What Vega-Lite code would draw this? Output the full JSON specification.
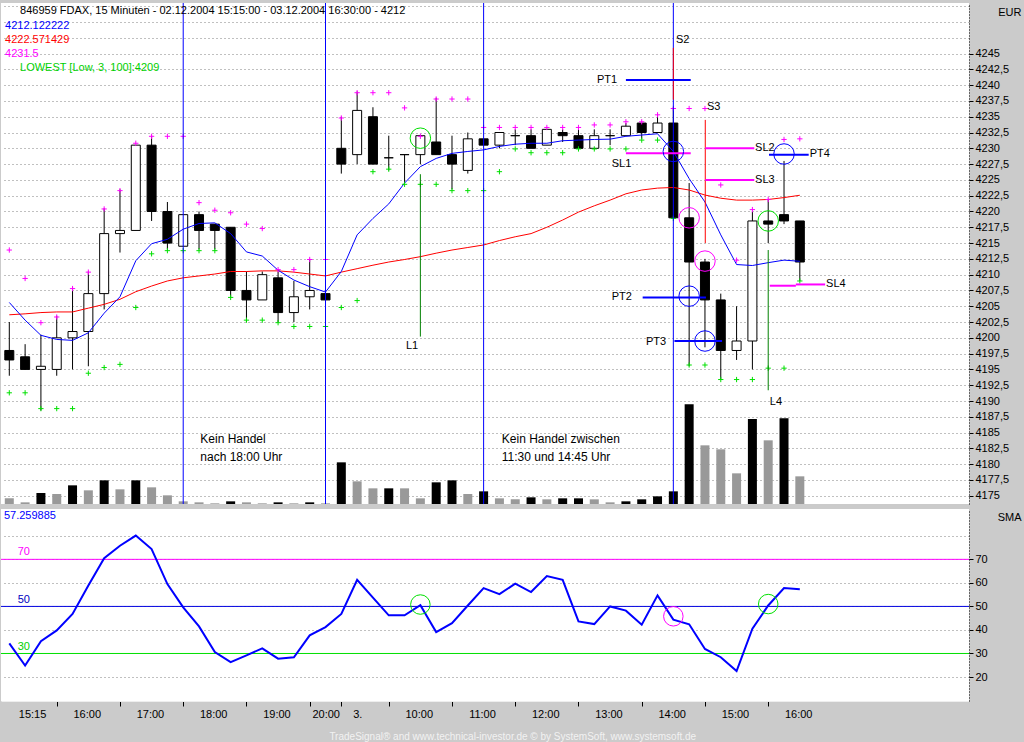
{
  "$schema": "https://vega.github.io/schema/vega-lite/v6.json",
  "background": "#CBCBCB",
  "padding": {"left": 0, "top": 0, "right": 0, "bottom": 2},
  "spacing": 5,
  "bounds": "flush",
  "config": {
    "view": {"fill": "white", "stroke": null},
    "font": "Liberation Sans",
    "text": {"font": "Liberation Sans", "fontSize": 11},
    "axis": {"labelFont": "Liberation Sans", "titleFont": "Liberation Sans"}
  },
  "title": {
    "text": "TradeSignal® and www.technical-investor.de © by SystemSoft, www.systemsoft.de",
    "orient": "bottom",
    "anchor": "middle",
    "frame": "bounds",
    "fontSize": 10,
    "fontWeight": "normal",
    "color": "#F2F2F2",
    "offset": 10
  },
  "datasets": {
    "bars": [
      {"bar": 0, "o": 4198, "h": 4202.5, "l": 4194, "c": 4196.5, "v": 17, "up": 0, "s": 4205.6, "m": 4203.65, "hh": 4213.9, "ll": 4191.3, "r": 34.3},
      {"bar": 1, "o": 4197, "h": 4199, "l": 4195, "c": 4195, "v": 5, "up": 0, "s": 4202.8, "m": 4203.8, "hh": 4209.4, "ll": 4191.3, "r": 24.9},
      {"bar": 2, "o": 4195, "h": 4200.5, "l": 4188.5, "c": 4195.5, "v": 33, "up": 1, "s": 4200.4, "m": 4204.0, "hh": 4202.4, "ll": 4188.8, "r": 35.2},
      {"bar": 3, "o": 4195, "h": 4203.5, "l": 4194, "c": 4200, "v": 30, "up": 0, "s": 4199.75, "m": 4204.1, "hh": 4203.3, "ll": 4188.8, "r": 39.8},
      {"bar": 4, "o": 4200, "h": 4208, "l": 4195, "c": 4201, "v": 56, "up": 1, "s": 4199.6, "m": 4204.1, "hh": 4207.8, "ll": 4188.8, "r": 46.8},
      {"bar": 5, "o": 4201, "h": 4210.5, "l": 4195.5, "c": 4207, "v": 41, "up": 0, "s": 4200.8, "m": 4204.7, "hh": 4210.4, "ll": 4194.4, "r": 58.9},
      {"bar": 6, "o": 4207, "h": 4220.5, "l": 4204.5, "c": 4216.5, "v": 71, "up": 1, "s": 4203.9, "m": 4205.3, "hh": 4220.4, "ll": 4195.3, "r": 70.5},
      {"bar": 7, "o": 4216.5, "h": 4223.5, "l": 4213.5, "c": 4217, "v": 44, "up": 0, "s": 4206.5, "m": 4206.1, "hh": 4223.3, "ll": 4195.8, "r": 75.8},
      {"bar": 8, "o": 4217, "h": 4230.5, "l": 4217, "c": 4230.5, "v": 71, "up": 1, "s": 4212.2, "m": 4207.3, "hh": 4230.8, "ll": 4204.8, "r": 80.1},
      {"bar": 9, "o": 4230.5, "h": 4232, "l": 4218.5, "c": 4220, "v": 50, "up": 0, "s": 4214.9, "m": 4208.2, "hh": 4231.9, "ll": 4213.3, "r": 74.4},
      {"bar": 10, "o": 4220, "h": 4221.5, "l": 4214, "c": 4215, "v": 26, "up": 0, "s": 4215.6, "m": 4209.0, "hh": 4231.9, "ll": 4213.8, "r": 59.5},
      {"bar": 11, "o": 4214.5, "h": 4219.5, "l": 4214.5, "c": 4219.5, "v": 8, "up": 0, "s": 4217.2, "m": 4209.5, "hh": 4231.9, "ll": 4213.8, "r": 49.6},
      {"bar": 12, "o": 4219.5, "h": 4220, "l": 4214, "c": 4217, "v": 5, "up": 0, "s": 4218.1, "m": 4209.8, "hh": 4221.4, "ll": 4213.8, "r": 41.5},
      {"bar": 13, "o": 4218, "h": 4218, "l": 4214, "c": 4217, "v": 2, "up": 0, "s": 4218.2, "m": 4210.1, "hh": 4220.2, "ll": 4213.8, "r": 30.6},
      {"bar": 14, "o": 4217.5, "h": 4217.5, "l": 4206.5, "c": 4207.5, "v": 8, "up": 1, "s": 4216.5, "m": 4210.5, "hh": 4219.8, "ll": 4206.4, "r": 26.3},
      {"bar": 15, "o": 4207.5, "h": 4210.5, "l": 4202.5, "c": 4206, "v": 5, "up": 0, "s": 4213.6, "m": 4210.5, "hh": 4218.0, "ll": 4202.8, "r": 29.2},
      {"bar": 16, "o": 4206, "h": 4210.5, "l": 4206, "c": 4210, "v": 2, "up": 0, "s": 4212.95, "m": 4210.6, "hh": 4217.3, "ll": 4202.8, "r": 32.2},
      {"bar": 17, "o": 4209.5, "h": 4210.5, "l": 4202.5, "c": 4204, "v": 5, "up": 1, "s": 4210.7, "m": 4210.6, "hh": 4210.8, "ll": 4202.4, "r": 27.8},
      {"bar": 18, "o": 4204, "h": 4209, "l": 4202.5, "c": 4206.5, "v": 2, "up": 0, "s": 4209.15, "m": 4210.4, "hh": 4210.8, "ll": 4201.8, "r": 28.4},
      {"bar": 19, "o": 4206.5, "h": 4212.5, "l": 4204.5, "c": 4207.5, "v": 5, "up": 1, "s": 4208.1, "m": 4210.1, "hh": 4212.4, "ll": 4201.8, "r": 37.7},
      {"bar": 20, "o": 4207, "h": 4207.5, "l": 4206, "c": 4206, "v": 2, "up": 0, "s": 4207.25, "m": 4209.8, "hh": 4212.4, "ll": 4201.8, "r": 41.2},
      {"bar": 21, "o": 4230, "h": 4235, "l": 4226, "c": 4227.5, "v": 125, "up": 1, "s": 4210.5, "m": 4210.4, "hh": 4234.8, "ll": 4204.8, "r": 46.8},
      {"bar": 22, "o": 4229, "h": 4239, "l": 4227.5, "c": 4236, "v": 68, "up": 0, "s": 4216.3, "m": 4210.95, "hh": 4238.8, "ll": 4205.9, "r": 61.3},
      {"bar": 23, "o": 4235, "h": 4236.5, "l": 4227.5, "c": 4227.5, "v": 47, "up": 0, "s": 4218.9, "m": 4211.5, "hh": 4238.8, "ll": 4226.3, "r": 53.7},
      {"bar": 24, "o": 4228.5, "h": 4232, "l": 4226.5, "c": 4228.5, "v": 47, "up": 1, "s": 4221.2, "m": 4212.0, "hh": 4238.8, "ll": 4226.7, "r": 46.2},
      {"bar": 25, "o": 4229, "h": 4229, "l": 4224.5, "c": 4229, "v": 47, "up": 0, "s": 4224.5, "m": 4212.4, "hh": 4236.4, "ll": 4224.3, "r": 46.2},
      {"bar": 26, "o": 4229, "h": 4232, "l": 4227.5, "c": 4232, "v": 17, "up": 0, "s": 4227.1, "m": 4212.85, "hh": 4231.9, "ll": 4224.3, "r": 50.5},
      {"bar": 27, "o": 4231, "h": 4238, "l": 4229, "c": 4229, "v": 65, "up": 1, "s": 4228.4, "m": 4213.4, "hh": 4237.8, "ll": 4224.3, "r": 39.1},
      {"bar": 28, "o": 4229, "h": 4232, "l": 4223.5, "c": 4227.5, "v": 71, "up": 1, "s": 4229.2, "m": 4213.9, "hh": 4237.8, "ll": 4223.3, "r": 42.9},
      {"bar": 29, "o": 4226.5, "h": 4232.5, "l": 4226, "c": 4231.5, "v": 30, "up": 0, "s": 4229.5, "m": 4214.3, "hh": 4237.8, "ll": 4223.3, "r": 50.4},
      {"bar": 30, "o": 4231.5, "h": 4231.5, "l": 4230.5, "c": 4230.5, "v": 38, "up": 1, "s": 4229.75, "m": 4214.7, "hh": 4233.3, "ll": 4223.3, "r": 57.8},
      {"bar": 31, "o": 4230.5, "h": 4232.5, "l": 4230, "c": 4232.5, "v": 17, "up": 0, "s": 4230.3, "m": 4215.4, "hh": 4233.3, "ll": 4226.3, "r": 55.2},
      {"bar": 32, "o": 4232, "h": 4233, "l": 4230.5, "c": 4232, "v": 14, "up": 0, "s": 4230.65, "m": 4216.0, "hh": 4233.3, "ll": 4229.9, "r": 59.7},
      {"bar": 33, "o": 4232, "h": 4233, "l": 4230, "c": 4230, "v": 20, "up": 1, "s": 4230.8, "m": 4216.5, "hh": 4233.3, "ll": 4229.3, "r": 56.1},
      {"bar": 34, "o": 4230.5, "h": 4233, "l": 4230.5, "c": 4233, "v": 14, "up": 0, "s": 4230.8, "m": 4217.5, "hh": 4233.3, "ll": 4229.3, "r": 62.9},
      {"bar": 35, "o": 4232.5, "h": 4233, "l": 4231, "c": 4232, "v": 17, "up": 1, "s": 4231.2, "m": 4218.65, "hh": 4233.3, "ll": 4229.3, "r": 61.3},
      {"bar": 36, "o": 4232, "h": 4233, "l": 4230, "c": 4230, "v": 17, "up": 1, "s": 4231.3, "m": 4219.9, "hh": 4233.3, "ll": 4229.9, "r": 43.6},
      {"bar": 37, "o": 4230, "h": 4233, "l": 4230, "c": 4232, "v": 14, "up": 0, "s": 4231.4, "m": 4220.9, "hh": 4233.7, "ll": 4229.9, "r": 42.5},
      {"bar": 38, "o": 4232, "h": 4233, "l": 4230.5, "c": 4232, "v": 5, "up": 0, "s": 4231.45, "m": 4221.8, "hh": 4233.7, "ll": 4229.9, "r": 50.0},
      {"bar": 39, "o": 4232, "h": 4234, "l": 4232, "c": 4233.5, "v": 8, "up": 1, "s": 4231.9, "m": 4222.8, "hh": 4234.2, "ll": 4229.9, "r": 48.2},
      {"bar": 40, "o": 4234, "h": 4234, "l": 4231.5, "c": 4232.5, "v": 14, "up": 1, "s": 4232.1, "m": 4223.4, "hh": 4234.2, "ll": 4231.3, "r": 42.2},
      {"bar": 41, "o": 4232.5, "h": 4235.5, "l": 4232.5, "c": 4234, "v": 23, "up": 1, "s": 4232.3, "m": 4223.7, "hh": 4235.3, "ll": 4231.3, "r": 54.7},
      {"bar": 42, "o": 4234, "h": 4236.5, "l": 4219, "c": 4219, "v": 38, "up": 1, "s": 4229.5, "m": 4223.8, "hh": 4236.3, "ll": 4218.9, "r": 44.4},
      {"bar": 43, "o": 4219, "h": 4224.5, "l": 4195.5, "c": 4212, "v": 299, "up": 1, "s": 4225.2, "m": 4223.4, "hh": 4236.3, "ll": 4195.7, "r": 42.4},
      {"bar": 44, "o": 4212, "h": 4212.5, "l": 4198.5, "c": 4206, "v": 176, "up": 0, "s": 4221.5, "m": 4222.6, "hh": 4236.3, "ll": 4195.7, "r": 31.9},
      {"bar": 45, "o": 4206, "h": 4207, "l": 4193.5, "c": 4198, "v": 164, "up": 0, "s": 4216.3, "m": 4222.1, "hh": 4224.2, "ll": 4193.4, "r": 28.4},
      {"bar": 46, "o": 4198, "h": 4205, "l": 4196.5, "c": 4199.5, "v": 92, "up": 0, "s": 4211.6, "m": 4221.8, "hh": 4212.3, "ll": 4193.4, "r": 22.5},
      {"bar": 47, "o": 4199.5, "h": 4220, "l": 4195, "c": 4218.5, "v": 255, "up": 1, "s": 4211.45, "m": 4221.8, "hh": 4220.3, "ll": 4193.4, "r": 40.5},
      {"bar": 48, "o": 4218.5, "h": 4222, "l": 4215, "c": 4218, "v": 191, "up": 0, "s": 4211.9, "m": 4221.9, "hh": 4221.9, "ll": 4195.2, "r": 50.4},
      {"bar": 49, "o": 4219.5, "h": 4228, "l": 4218, "c": 4218.5, "v": 257, "up": 1, "s": 4212.3, "m": 4222.2, "hh": 4231.4, "ll": 4195.2, "r": 57.8},
      {"bar": 50, "o": 4218.5, "h": 4218.5, "l": 4209, "c": 4212, "v": 83, "up": 0, "s": 4212.12, "m": 4222.57, "hh": 4231.5, "ll": 4209, "r": 57.26}
    ],
    "vfull": [
      {"bar": 11, "p": 4173.7, "p2": 4253.0},
      {"bar": 20, "p": 4173.7, "p2": 4253.0},
      {"bar": 30, "p": 4173.7, "p2": 4253.0},
      {"bar": 42, "p": 4173.7, "p2": 4253.0}
    ],
    "vseg": [
      {"bar": 42, "p": 4245.9, "p2": 4237.7, "k": "S"},
      {"bar": 44.02, "p": 4234.5, "p2": 4215.0, "k": "S"},
      {"bar": 26, "p": 4225.9, "p2": 4200.2, "k": "L"},
      {"bar": 48, "p": 4213.9, "p2": 4191.7, "k": "L"}
    ],
    "hseg": [
      {"bar": 39.0, "bar2": 43.1, "p": 4240.8, "k": "PT"},
      {"bar": 40.06, "bar2": 44.06, "p": 4206.4, "k": "PT"},
      {"bar": 42.07, "bar2": 45.08, "p": 4199.5, "k": "PT"},
      {"bar": 48.05, "bar2": 50.56, "p": 4229.0, "k": "PT"},
      {"bar": 39.0, "bar2": 43.1, "p": 4229.2, "k": "SL"},
      {"bar": 44.02, "bar2": 47.12, "p": 4230.0, "k": "SL"},
      {"bar": 44.02, "bar2": 47.12, "p": 4225.0, "k": "SL"},
      {"bar": 48.1, "bar2": 49.75, "p": 4208.25, "k": "SL"},
      {"bar": 49.75, "bar2": 51.6, "p": 4208.45, "k": "SL"}
    ],
    "circ": [
      {"bar": 26, "p": 4231.6, "k": "g"},
      {"bar": 48, "p": 4218.5, "k": "g"},
      {"bar": 42, "p": 4229.5, "k": "b"},
      {"bar": 43, "p": 4206.6, "k": "b"},
      {"bar": 44, "p": 4199.5, "k": "b"},
      {"bar": 49, "p": 4229.1, "k": "b"},
      {"bar": 43, "p": 4219.0, "k": "m"},
      {"bar": 44, "p": 4212.15, "k": "m"}
    ],
    "ann": [
      {"bar": 37.17, "p": 4240.8, "t": "PT1"},
      {"bar": 38.1, "p": 4206.4, "t": "PT2"},
      {"bar": 40.27, "p": 4199.4, "t": "PT3"},
      {"bar": 50.63, "p": 4229.1, "t": "PT4"},
      {"bar": 38.1, "p": 4227.5, "t": "SL1"},
      {"bar": 47.17, "p": 4230.0, "t": "SL2"},
      {"bar": 47.17, "p": 4225.0, "t": "SL3"},
      {"bar": 51.66, "p": 4208.5, "t": "SL4"},
      {"bar": 42.17, "p": 4247.15, "t": "S2"},
      {"bar": 44.13, "p": 4236.6, "t": "S3"},
      {"bar": 25.09, "p": 4198.7, "t": "L1"},
      {"bar": 48.1, "p": 4189.8, "t": "L4"}
    ],
    "ann12": [
      {"bar": 12.08, "p": 4183.95, "t": "Kein Handel"},
      {"bar": 12.08, "p": 4181.2, "t": "nach 18:00 Uhr"},
      {"bar": 31.15, "p": 4183.95, "t": "Kein Handel zwischen"},
      {"bar": 31.15, "p": 4181.2, "t": "11:30 und 14:45 Uhr"}
    ],
    "head": [
      {"bar": 0.68, "p": 4251.7, "t": "846959  FDAX, 15 Minuten - 02.12.2004 15:15:00 - 03.12.2004 16:30:00 - 4212", "k": "t"},
      {"bar": -0.27, "p": 4249.3, "t": "4212.122222", "k": "b"},
      {"bar": -0.27, "p": 4247.1, "t": "4222.571429", "k": "r"},
      {"bar": -0.27, "p": 4244.9, "t": "4231.5", "k": "m"},
      {"bar": 0.68, "p": 4242.7, "t": "LOWEST [Low, 3, 100]:4209", "k": "g"}
    ],
    "lev": [
      {"bar": -0.525, "bar2": 60.7, "r": 30},
      {"bar": -0.525, "bar2": 60.7, "r": 50},
      {"bar": -0.525, "bar2": 60.7, "r": 70}
    ],
    "rsic": [
      {"bar": 26, "r": 50.8, "k": "g"},
      {"bar": 42, "r": 45.8, "k": "m"},
      {"bar": 48, "r": 51.0, "k": "g"}
    ],
    "rsit": [
      {"bar": -0.34, "r": 88.4, "t": "57.259885", "k": "b"},
      {"bar": 0.53, "r": 73.0, "t": "70", "k": "m"},
      {"bar": 0.53, "r": 52.8, "t": "50", "k": "n"},
      {"bar": 0.53, "r": 32.7, "t": "30", "k": "g"}
    ]
  },
  "vconcat": [
    {
      "width": 968,
      "height": 501,
      "encoding": {
        "x": {"field": "bar", "type": "quantitative", "scale": {"domain": [-0.525, 60.7], "nice": false, "zero": false, "padding": 0}, "axis": null}
      },
      "resolve": {"scale": {"y": "independent"}},
      "layer": [
        {
          "data": {"name": "bars"},
          "mark": {"type": "bar", "size": 9, "orient": "vertical"},
          "encoding": {
            "y": {"field": "v", "type": "quantitative", "scale": {"domain": [0, 1503], "nice": false}, "axis": null},
            "color": {"condition": {"test": "datum.up == 1", "value": "black"}, "value": "#999999"}
          }
        },
        {
          "encoding": {
            "y": {
              "field": "p", "type": "quantitative",
              "scale": {"domain": [4173.7, 4253.0], "nice": false, "zero": false},
              "axis": {"orient": "right", "values": [4175, 4177.5, 4180, 4182.5, 4185, 4187.5, 4190, 4192.5, 4195, 4197.5, 4200, 4202.5, 4205, 4207.5, 4210, 4212.5, 4215, 4217.5, 4220, 4222.5, 4225, 4227.5, 4230, 4232.5, 4235, 4237.5, 4240, 4242.5, 4245, 4247.5, 4250, 4252.5], "labelExpr": "datum.value > 4246 ? '' : (datum.value % 1 == 0 ? format(datum.value, 'd') : replace(format(datum.value, '.1f'), '.', ','))", "grid": true, "gridDash": [1, 3], "gridColor": "#808080", "domainDash": [1, 2], "domainColor": "black", "tickSize": 4, "tickColor": "black", "tickOpacity": {"condition": {"test": "datum.value > 4246", "value": 0}, "value": 1}, "labelPadding": 2, "labelFontSize": 11, "labelColor": "black", "labelOverlap": false, "labelFlush": false, "title": "EUR", "titleAngle": 0, "titleX": 52, "titleY": 9, "titleAlign": "right", "titleBaseline": "middle", "titleFontWeight": "normal", "titleFontSize": 11, "titleColor": "black", "minExtent": 56, "maxExtent": 56}
            }
          },
          "layer": [
            {
              "data": {"name": "bars"},
              "mark": {"type": "rule", "color": "black", "strokeWidth": 1},
              "encoding": {
                "y": {
                  "field": "l", "type": "quantitative",
                  "scale": {"domain": [4173.7, 4253.0], "nice": false, "zero": false},
                  "axis": {"orient": "right", "values": [4175, 4177.5, 4180, 4182.5, 4185, 4187.5, 4190, 4192.5, 4195, 4197.5, 4200, 4202.5, 4205, 4207.5, 4210, 4212.5, 4215, 4217.5, 4220, 4222.5, 4225, 4227.5, 4230, 4232.5, 4235, 4237.5, 4240, 4242.5, 4245, 4247.5, 4250, 4252.5], "labelExpr": "datum.value > 4246 ? '' : (datum.value % 1 == 0 ? format(datum.value, 'd') : replace(format(datum.value, '.1f'), '.', ','))", "grid": true, "gridDash": [1, 3], "gridColor": "#808080", "domainDash": [1, 2], "domainColor": "black", "tickSize": 4, "tickColor": "black", "tickOpacity": {"condition": {"test": "datum.value > 4246", "value": 0}, "value": 1}, "labelPadding": 2, "labelFontSize": 11, "labelColor": "black", "labelOverlap": false, "labelFlush": false, "title": "EUR", "titleAngle": 0, "titleX": 52, "titleY": 9, "titleAlign": "right", "titleBaseline": "middle", "titleFontWeight": "normal", "titleFontSize": 11, "titleColor": "black", "minExtent": 56, "maxExtent": 56}
                },
                "y2": {"field": "h"}
              }
            },
            {
              "data": {"name": "bars"},
              "mark": {"type": "bar", "size": 9, "stroke": "black", "strokeWidth": 1, "orient": "vertical"},
              "encoding": {
                "y": {
                  "field": "o", "type": "quantitative",
                  "scale": {"domain": [4173.7, 4253.0], "nice": false, "zero": false},
                  "axis": {"orient": "right", "values": [4175, 4177.5, 4180, 4182.5, 4185, 4187.5, 4190, 4192.5, 4195, 4197.5, 4200, 4202.5, 4205, 4207.5, 4210, 4212.5, 4215, 4217.5, 4220, 4222.5, 4225, 4227.5, 4230, 4232.5, 4235, 4237.5, 4240, 4242.5, 4245, 4247.5, 4250, 4252.5], "labelExpr": "datum.value > 4246 ? '' : (datum.value % 1 == 0 ? format(datum.value, 'd') : replace(format(datum.value, '.1f'), '.', ','))", "grid": true, "gridDash": [1, 3], "gridColor": "#808080", "domainDash": [1, 2], "domainColor": "black", "tickSize": 4, "tickColor": "black", "tickOpacity": {"condition": {"test": "datum.value > 4246", "value": 0}, "value": 1}, "labelPadding": 2, "labelFontSize": 11, "labelColor": "black", "labelOverlap": false, "labelFlush": false, "title": "EUR", "titleAngle": 0, "titleX": 52, "titleY": 9, "titleAlign": "right", "titleBaseline": "middle", "titleFontWeight": "normal", "titleFontSize": 11, "titleColor": "black", "minExtent": 56, "maxExtent": 56}
                },
                "y2": {"field": "c"},
                "color": {"condition": {"test": "datum.c < datum.o", "value": "black"}, "value": "white"}
              }
            },
            {
              "data": {"name": "bars"},
              "mark": {"type": "line", "color": "#FF0000", "strokeWidth": 1},
              "encoding": {
                "y": {
                  "field": "m", "type": "quantitative",
                  "scale": {"domain": [4173.7, 4253.0], "nice": false, "zero": false},
                  "axis": {"orient": "right", "values": [4175, 4177.5, 4180, 4182.5, 4185, 4187.5, 4190, 4192.5, 4195, 4197.5, 4200, 4202.5, 4205, 4207.5, 4210, 4212.5, 4215, 4217.5, 4220, 4222.5, 4225, 4227.5, 4230, 4232.5, 4235, 4237.5, 4240, 4242.5, 4245, 4247.5, 4250, 4252.5], "labelExpr": "datum.value > 4246 ? '' : (datum.value % 1 == 0 ? format(datum.value, 'd') : replace(format(datum.value, '.1f'), '.', ','))", "grid": true, "gridDash": [1, 3], "gridColor": "#808080", "domainDash": [1, 2], "domainColor": "black", "tickSize": 4, "tickColor": "black", "tickOpacity": {"condition": {"test": "datum.value > 4246", "value": 0}, "value": 1}, "labelPadding": 2, "labelFontSize": 11, "labelColor": "black", "labelOverlap": false, "labelFlush": false, "title": "EUR", "titleAngle": 0, "titleX": 52, "titleY": 9, "titleAlign": "right", "titleBaseline": "middle", "titleFontWeight": "normal", "titleFontSize": 11, "titleColor": "black", "minExtent": 56, "maxExtent": 56}
                }
              }
            },
            {
              "data": {"name": "bars"},
              "mark": {"type": "line", "color": "#0000FF", "strokeWidth": 1},
              "encoding": {
                "y": {
                  "field": "s", "type": "quantitative",
                  "scale": {"domain": [4173.7, 4253.0], "nice": false, "zero": false},
                  "axis": {"orient": "right", "values": [4175, 4177.5, 4180, 4182.5, 4185, 4187.5, 4190, 4192.5, 4195, 4197.5, 4200, 4202.5, 4205, 4207.5, 4210, 4212.5, 4215, 4217.5, 4220, 4222.5, 4225, 4227.5, 4230, 4232.5, 4235, 4237.5, 4240, 4242.5, 4245, 4247.5, 4250, 4252.5], "labelExpr": "datum.value > 4246 ? '' : (datum.value % 1 == 0 ? format(datum.value, 'd') : replace(format(datum.value, '.1f'), '.', ','))", "grid": true, "gridDash": [1, 3], "gridColor": "#808080", "domainDash": [1, 2], "domainColor": "black", "tickSize": 4, "tickColor": "black", "tickOpacity": {"condition": {"test": "datum.value > 4246", "value": 0}, "value": 1}, "labelPadding": 2, "labelFontSize": 11, "labelColor": "black", "labelOverlap": false, "labelFlush": false, "title": "EUR", "titleAngle": 0, "titleX": 52, "titleY": 9, "titleAlign": "right", "titleBaseline": "middle", "titleFontWeight": "normal", "titleFontSize": 11, "titleColor": "black", "minExtent": 56, "maxExtent": 56}
                }
              }
            },
            {
              "data": {"name": "bars"},
              "mark": {"type": "point", "shape": "M-1,0H1M0,-1V1", "filled": false, "size": 28, "strokeWidth": 1, "color": "#FF00FF", "opacity": 1},
              "encoding": {
                "y": {
                  "field": "hh", "type": "quantitative",
                  "scale": {"domain": [4173.7, 4253.0], "nice": false, "zero": false},
                  "axis": {"orient": "right", "values": [4175, 4177.5, 4180, 4182.5, 4185, 4187.5, 4190, 4192.5, 4195, 4197.5, 4200, 4202.5, 4205, 4207.5, 4210, 4212.5, 4215, 4217.5, 4220, 4222.5, 4225, 4227.5, 4230, 4232.5, 4235, 4237.5, 4240, 4242.5, 4245, 4247.5, 4250, 4252.5], "labelExpr": "datum.value > 4246 ? '' : (datum.value % 1 == 0 ? format(datum.value, 'd') : replace(format(datum.value, '.1f'), '.', ','))", "grid": true, "gridDash": [1, 3], "gridColor": "#808080", "domainDash": [1, 2], "domainColor": "black", "tickSize": 4, "tickColor": "black", "tickOpacity": {"condition": {"test": "datum.value > 4246", "value": 0}, "value": 1}, "labelPadding": 2, "labelFontSize": 11, "labelColor": "black", "labelOverlap": false, "labelFlush": false, "title": "EUR", "titleAngle": 0, "titleX": 52, "titleY": 9, "titleAlign": "right", "titleBaseline": "middle", "titleFontWeight": "normal", "titleFontSize": 11, "titleColor": "black", "minExtent": 56, "maxExtent": 56}
                }
              }
            },
            {
              "data": {"name": "bars"},
              "mark": {"type": "point", "shape": "M-1,0H1M0,-1V1", "filled": false, "size": 28, "strokeWidth": 1, "color": "#00E000", "opacity": 1},
              "encoding": {
                "y": {
                  "field": "ll", "type": "quantitative",
                  "scale": {"domain": [4173.7, 4253.0], "nice": false, "zero": false},
                  "axis": {"orient": "right", "values": [4175, 4177.5, 4180, 4182.5, 4185, 4187.5, 4190, 4192.5, 4195, 4197.5, 4200, 4202.5, 4205, 4207.5, 4210, 4212.5, 4215, 4217.5, 4220, 4222.5, 4225, 4227.5, 4230, 4232.5, 4235, 4237.5, 4240, 4242.5, 4245, 4247.5, 4250, 4252.5], "labelExpr": "datum.value > 4246 ? '' : (datum.value % 1 == 0 ? format(datum.value, 'd') : replace(format(datum.value, '.1f'), '.', ','))", "grid": true, "gridDash": [1, 3], "gridColor": "#808080", "domainDash": [1, 2], "domainColor": "black", "tickSize": 4, "tickColor": "black", "tickOpacity": {"condition": {"test": "datum.value > 4246", "value": 0}, "value": 1}, "labelPadding": 2, "labelFontSize": 11, "labelColor": "black", "labelOverlap": false, "labelFlush": false, "title": "EUR", "titleAngle": 0, "titleX": 52, "titleY": 9, "titleAlign": "right", "titleBaseline": "middle", "titleFontWeight": "normal", "titleFontSize": 11, "titleColor": "black", "minExtent": 56, "maxExtent": 56}
                }
              }
            },
            {
              "data": {"name": "vfull"},
              "mark": {"type": "rule", "color": "#0000FF", "strokeWidth": 1},
              "encoding": {"y2": {"field": "p2"}}
            },
            {
              "data": {"name": "vseg"},
              "mark": {"type": "rule", "strokeWidth": 1},
              "encoding": {
                "y2": {"field": "p2"},
                "color": {"condition": {"test": "datum.k == 'S'", "value": "#FF0000"}, "value": "#008000"}
              }
            },
            {
              "data": {"name": "hseg"},
              "mark": {"type": "rule", "strokeWidth": 2},
              "encoding": {
                "x2": {"field": "bar2"},
                "color": {"condition": {"test": "datum.k == 'PT'", "value": "#0000FF"}, "value": "#FF00FF"}
              }
            },
            {
              "data": {"name": "circ"},
              "mark": {"type": "point", "shape": "circle", "filled": false, "size": 420, "strokeWidth": 1, "opacity": 1},
              "encoding": {
                "color": {"condition": [{"test": "datum.k == 'g'", "value": "#00E000"}, {"test": "datum.k == 'm'", "value": "#FF00FF"}], "value": "#0000FF"}
              }
            },
            {
              "data": {"name": "ann"},
              "mark": {"type": "text", "align": "left", "baseline": "middle", "fontSize": 11, "color": "black"},
              "encoding": {"text": {"field": "t"}}
            },
            {
              "data": {"name": "ann12"},
              "mark": {"type": "text", "align": "left", "baseline": "middle", "fontSize": 12, "color": "black"},
              "encoding": {"text": {"field": "t"}}
            },
            {
              "data": {"name": "head"},
              "mark": {"type": "text", "align": "left", "baseline": "middle", "fontSize": 11},
              "encoding": {
                "text": {"field": "t"},
                "color": {"condition": [{"test": "datum.k == 'b'", "value": "#0000FF"}, {"test": "datum.k == 'r'", "value": "#FF0000"}, {"test": "datum.k == 'm'", "value": "#FF00FF"}, {"test": "datum.k == 'g'", "value": "#00D000"}], "value": "black"}
              }
            }
          ]
        }
      ]
    },
    {
      "width": 968,
      "height": 192,
      "encoding": {
        "x": {
          "field": "bar", "type": "quantitative",
          "scale": {"domain": [-0.525, 60.7], "nice": false, "zero": false, "padding": 0},
          "axis": {
            "orient": "bottom",
            "values": [-0.46, 3, 7, 11, 15, 19, 21, 24, 28, 32, 36, 40, 44, 48],
            "labelExpr": "datum.value < 0 ? '15:15' : datum.value == 21 ? '3.' : (datum.value < 21 ? 15 + (datum.value + 1) / 4 : 9 + (datum.value - 20) / 4) + ':00'",
            "grid": false,
            "domainColor": "#EEEEEE",
            "tickSize": 5,
            "tickColor": "black",
            "tickOpacity": {"condition": {"test": "datum.value < 0", "value": 0}, "value": 1},
            "labelOffset": {"condition": {"test": "datum.value == 19 || datum.value == 21", "value": 16}, "value": 30},
            "labelAlign": "center",
            "labelPadding": 2,
            "labelFontSize": 11,
            "labelColor": "black",
            "labelOverlap": false,
            "labelFlush": false,
            "labelBound": false,
            "title": null,
            "minExtent": 21,
            "maxExtent": 21
          }
        },
        "y": {
          "field": "r", "type": "quantitative",
          "scale": {"domain": [9.8, 91.4], "nice": false, "zero": false},
          "axis": {
            "orient": "right",
            "values": [20, 30, 40, 50, 60, 70, 80],
            "labelExpr": "datum.value > 75 ? '' : datum.value",
            "grid": true,
            "gridDash": [1, 3],
            "gridColor": "#808080",
            "domainDash": [1, 2],
            "domainColor": "black",
            "tickSize": 4,
            "tickColor": "black",
            "tickOpacity": {"condition": {"test": "datum.value > 75", "value": 0}, "value": 1},
            "labelPadding": 2,
            "labelFontSize": 11,
            "labelColor": "black",
            "labelOverlap": false,
            "labelFlush": false,
            "title": "SMA",
            "titleAngle": 0,
            "titleX": 52,
            "titleY": 8,
            "titleAlign": "right",
            "titleBaseline": "middle",
            "titleFontWeight": "normal",
            "titleFontSize": 11,
            "titleColor": "black",
            "minExtent": 56,
            "maxExtent": 56
          }
        }
      },
      "layer": [
        {
          "data": {"name": "lev"},
          "mark": {"type": "rule", "strokeWidth": 1},
          "encoding": {
            "x2": {"field": "bar2"},
            "color": {"condition": [{"test": "datum.r == 70", "value": "#FF00FF"}, {"test": "datum.r == 50", "value": "#0000E0"}], "value": "#00E000"}
          }
        },
        {
          "data": {"name": "bars"},
          "mark": {"type": "line", "color": "#0000FF", "strokeWidth": 2},
          "encoding": {}
        },
        {
          "data": {"name": "rsic"},
          "mark": {"type": "point", "shape": "circle", "filled": false, "size": 380, "strokeWidth": 1, "opacity": 1},
          "encoding": {
            "color": {"condition": {"test": "datum.k == 'm'", "value": "#FF00FF"}, "value": "#00E000"}
          }
        },
        {
          "data": {"name": "rsit"},
          "mark": {"type": "text", "align": "left", "baseline": "middle", "fontSize": 11},
          "encoding": {
            "text": {"field": "t"},
            "color": {"condition": [{"test": "datum.k == 'b'", "value": "#0000FF"}, {"test": "datum.k == 'm'", "value": "#FF00FF"}, {"test": "datum.k == 'n'", "value": "#0000C0"}], "value": "#00D000"}
          }
        }
      ]
    }
  ]
}
